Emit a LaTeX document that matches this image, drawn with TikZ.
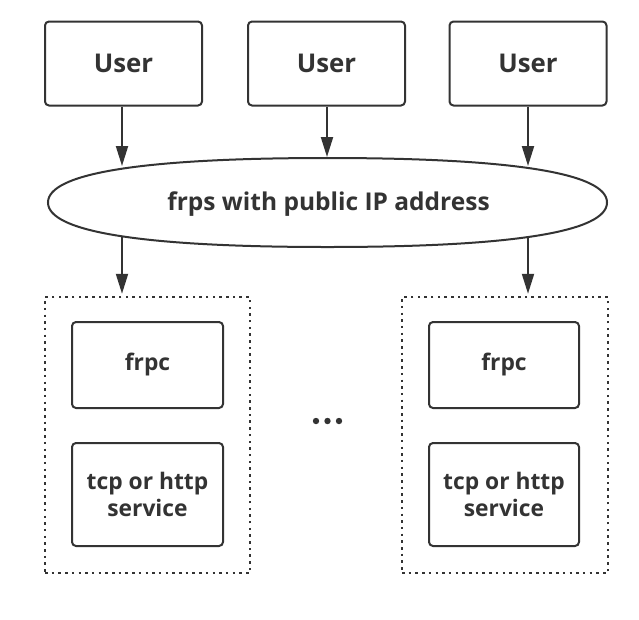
\documentclass[tikz,border=0pt]{standalone}
\usepackage{fontspec}
\setmainfont{Open Sans}
\usetikzlibrary{arrows.meta}
\definecolor{ink}{HTML}{333333}
\begin{document}
\begin{tikzpicture}[x=1pt,y=-1pt,
  box/.style={draw=ink, line width=2pt, rounded corners=4pt, inner sep=0pt,
    text=ink, align=center},
  userbox/.style={box, minimum width=157pt, minimum height=84pt,
    font=\bfseries\fontsize{25.8}{28}\selectfont},
  innerbox/.style={box, minimum width=151pt,
    font=\bfseries\fontsize{22.8}{27}\selectfont},
  dotbox/.style={draw=ink, line width=2.5pt, dash pattern=on 2.5pt off 4.2pt,
    inner sep=0pt, minimum width=205pt, minimum height=276pt},
  arr/.style={draw=ink, line width=2pt, -{Triangle[length=20pt,width=12pt]}},
  oval/.style={draw=ink, line width=2pt}]
\useasboundingbox (0,0) rectangle (639,619);
\fill[white] (0,0) rectangle (639,619);

% users
\node[userbox] (u1) at (123.5,63.5) {User};
\node[userbox] (u2) at (326.5,63.5) {User};
\node[userbox] (u3) at (528,63.5) {User};

% frps
\draw[oval] (607,202.5) .. controls (607,173.1) and (512,158) .. (327.5,158)
  .. controls (143,158) and (48,173.1) .. (48,202.5)
  .. controls (48,231.9) and (143,247) .. (327.5,247)
  .. controls (512,247) and (607,231.9) .. (607,202.5) -- cycle;
\node[text=ink, font=\bfseries\fontsize{24.5}{28}\selectfont] (frps) at (328.5,204.5)
  {frps with public IP address};

\coordinate (t1) at (122,166);
\coordinate (t2) at (327,157);
\coordinate (t3) at (528,166);
\coordinate (b1) at (122,236);
\coordinate (b2) at (528,237);

% client groups
\node[dotbox] (c1) at (147.5,435) {};
\node[dotbox, minimum width=206pt] (c2) at (505,435) {};

\node[innerbox, minimum height=86pt] (f1) at (147.5,365) {frpc};
\node[innerbox, minimum height=103pt] (s1) at (147.5,494.5) {tcp or http\\service};
\node[innerbox, minimum width=150pt, minimum height=86pt] (f2) at (504,365) {frpc};
\node[innerbox, minimum width=150pt, minimum height=103pt] (s2) at (504,494.5) {tcp or http\\service};

% arrows
\draw[arr] (u1.south -| t1) -- (t1);
\draw[arr] (u2.south -| t2) -- (t2);
\draw[arr] (u3.south -| t3) -- (t3);
\draw[arr, shorten >=2pt] (b1) -- (c1.north -| b1);
\draw[arr, shorten >=2pt] (b2) -- (c2.north -| b2);

% ellipsis dots
\fill[ink] (316,421) circle (3.2) (327.5,421) circle (3.2) (339,421) circle (3.2);
\end{tikzpicture}
\end{document}
